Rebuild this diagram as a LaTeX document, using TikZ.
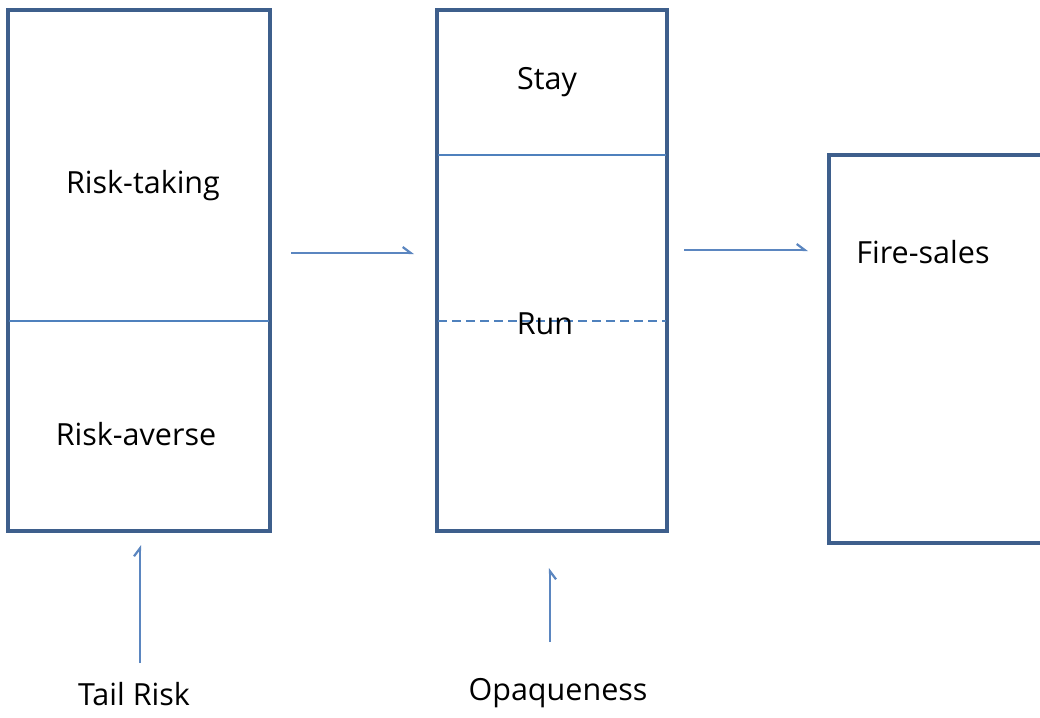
\documentclass[tikz,border=0pt]{standalone}
\usepackage{fontspec}
\setmainfont{Open Sans}
\usetikzlibrary{arrows.meta}
\definecolor{boxc}{HTML}{3E5F8C}
\definecolor{linec}{HTML}{4F81BD}
\definecolor{arrc}{HTML}{5B86C0}
\begin{document}
\begin{tikzpicture}[x=1pt,y=-1pt,
  bigbox/.style={draw=boxc,line width=3.2pt,fill=none},
  thin/.style={draw=linec,line width=1.2pt},
  lbl/.style={font=\fontsize{30.5}{36}\selectfont,text=black,inner sep=0pt},
  connL/.style={draw=arrc,line width=1.2pt,-{Straight Barb[harpoon,length=8pt,width=12pt,line width=2.2pt]}},
  connR/.style={draw=arrc,line width=1.2pt,-{Straight Barb[harpoon,swap,length=8pt,width=12pt,line width=2.2pt]}}]
\clip (0,0) rectangle (1040,717);
\fill[white] (0,0) rectangle (1040,717);
% boxes
\draw[bigbox] (8,10) rectangle (270,531);
\draw[bigbox] (437,10) rectangle (667,531);
\draw[bigbox] (829,155) rectangle (1060,543);
% dividers
\draw[thin] (9,321) -- (269,321);
\draw[thin] (438,155) -- (666,155);
\draw[thin,dash pattern=on 9pt off 5pt,line width=2pt] (438,321) -- (666,321);
% labels
\node[lbl] (rt) at (143,186) {Risk-taking};
\node[lbl] (ra) at (136,434) {Risk-averse};
\node[lbl] (stay) at (547,82) {Stay};
\node[lbl] (run) at (545,324) {Run};
\node[lbl] (fs) at (923,252) {Fire-sales};
\node[lbl] (tail) at (134,694) {Tail Risk};
\node[lbl] (opq) at (558,693) {Opaqueness};
% connector ends
\coordinate (a1s) at (291,253);
\coordinate (a1e) at (414,253);
\coordinate (a2s) at (684,250);
\coordinate (a2e) at (808,250);
\coordinate (a3s) at (140,663);
\coordinate (a3e) at (140,545);
\coordinate (a4s) at (550,642);
\coordinate (a4e) at (550,568);
\draw[connL] (a1s) -- (a1e);
\draw[connL] (a2s) -- (a2e);
\draw[connL] (a3s) -- (a3e);
\draw[connR] (a4s) -- (a4e);
\end{tikzpicture}
\end{document}
